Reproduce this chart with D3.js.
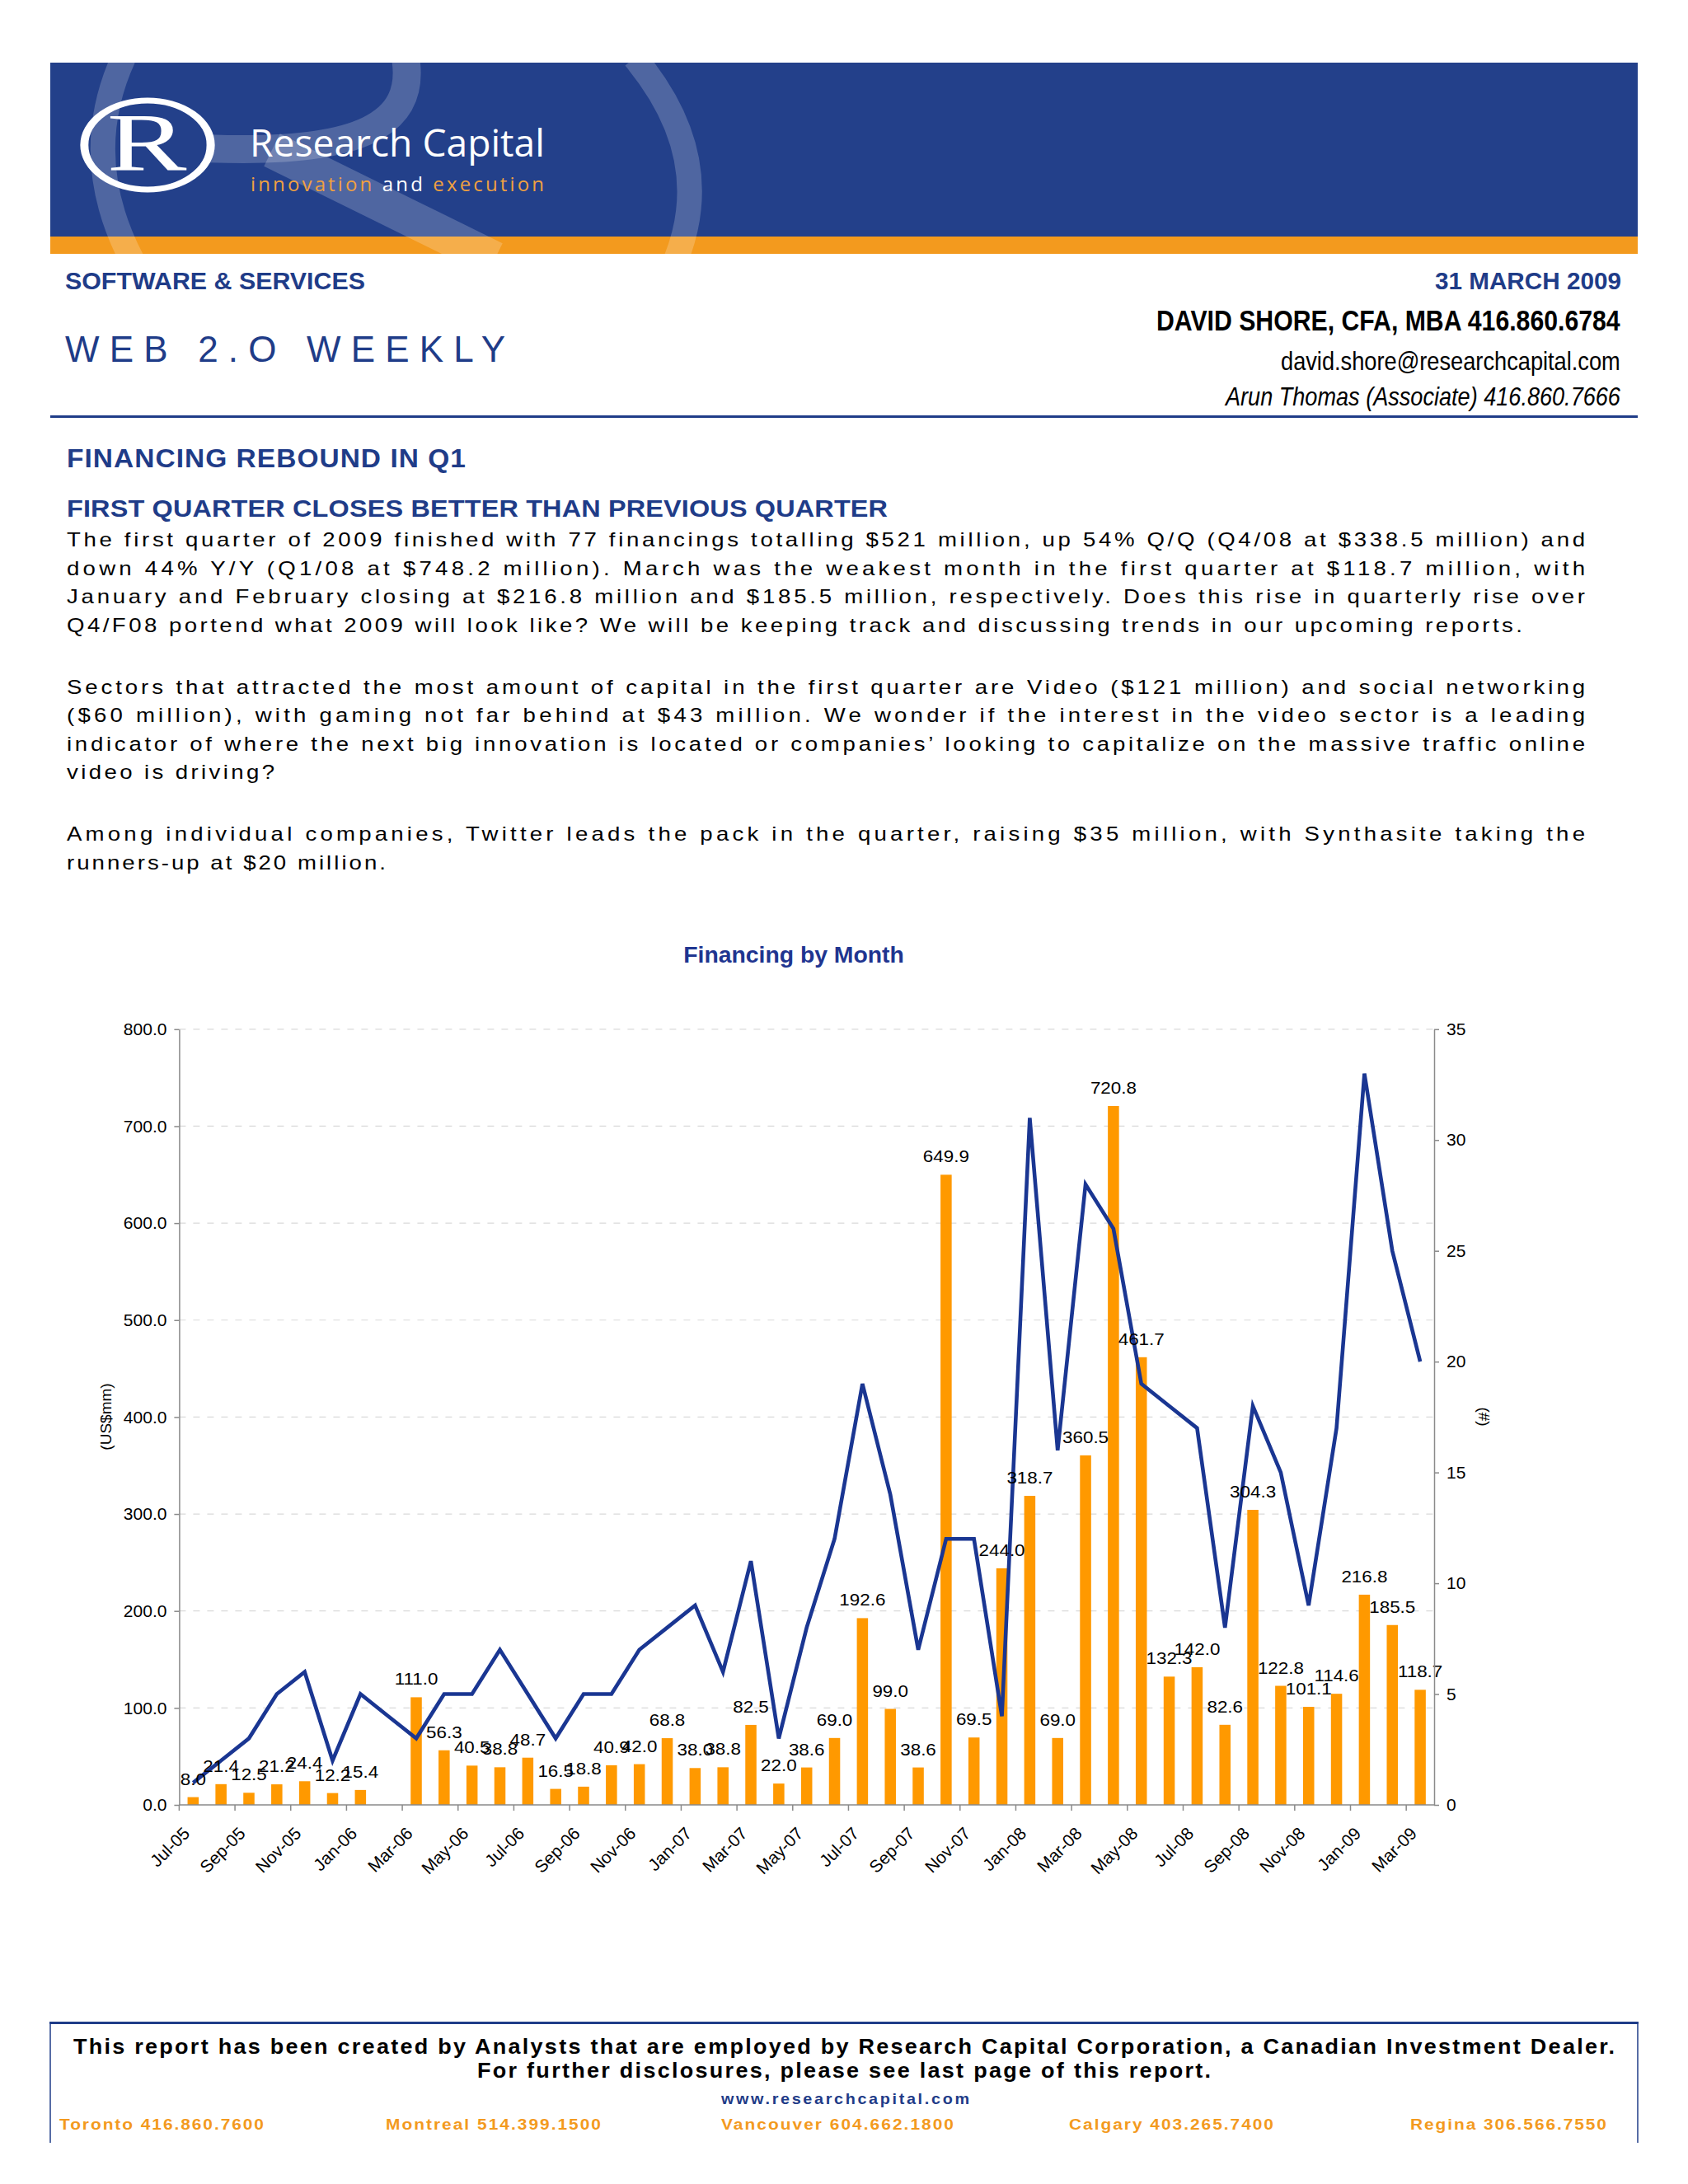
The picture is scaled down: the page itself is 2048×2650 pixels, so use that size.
<!DOCTYPE html>
<html><head><meta charset="utf-8">
<script src="https://cdn.jsdelivr.net/npm/d3@7"></script>
<style>
html,body{margin:0;padding:0;background:#fff;}
svg{display:block;}
text{font-family:"Liberation Sans",Arial,Helvetica,sans-serif;}
</style>
</head><body>
<svg id="page" width="2048" height="2650"></svg>
<script>
// ---------------- DATA ----------------
const months = ["Jul-05","Aug-05","Sep-05","Oct-05","Nov-05","Dec-05","Jan-06","Feb-06","Mar-06","Apr-06","May-06","Jun-06",
  "Jul-06","Aug-06","Sep-06","Oct-06","Nov-06","Dec-06","Jan-07","Feb-07","Mar-07","Apr-07","May-07","Jun-07",
  "Jul-07","Aug-07","Sep-07","Oct-07","Nov-07","Dec-07","Jan-08","Feb-08","Mar-08","Apr-08","May-08","Jun-08",
  "Jul-08","Aug-08","Sep-08","Oct-08","Nov-08","Dec-08","Jan-09","Feb-09","Mar-09"];
// Financing amount (US$mm), bars, left axis
const amounts = [8.0,21.4,12.5,21.2,24.4,12.2,15.4,null,111.0,56.3,40.5,38.8,
  48.7,16.5,18.8,40.9,42.0,68.8,38.0,38.8,82.5,22.0,38.6,69.0,
  192.6,99.0,38.6,649.9,69.5,244.0,318.7,69.0,360.5,720.8,461.7,132.3,
  142.0,82.6,304.3,122.8,101.1,114.6,216.8,185.5,118.7];
// Number of financings (#), line, right axis
const counts = [1,2,3,5,6,2,5,4,3,5,5,7,
  5,3,5,5,7,8,9,6,11,3,8,12,
  19,14,7,12,12,4,31,16,28,26,19,18,
  17,8,18,15,9,17,33,25,20];
const amountTicks = [0,100,200,300,400,500,600,700,800];
const countTicks = [0,5,10,15,20,25,30,35];
const monthTickLabels = months.filter((d,i)=>i%2===0);

const chartTitle = "Financing by Month";
const leftAxisTitle = "(US$mm)";
const rightAxisTitle = "(#)";

// ---------------- PAGE ----------------
const svg = d3.select("#page");
const NAVY = "#23408a", ORANGE = "#f39a1e", HEAD = "#1f3c88";

svg.append("rect").attr("width",2048).attr("height",2650).attr("fill","#ffffff");

// text helper. mode "fit": scale glyphs so the text is exactly len wide;
// otherwise stretch by sx and spread letters so the text is len wide.
function txt(parent,x,y,s,opts){
  const t = parent.append("text").text(s)
    .style("font-size",(opts.size||22)+"px").attr("fill",opts.fill||"#000");
  if(opts.family) t.style("font-family",opts.family);
  if(opts.weight) t.style("font-weight",opts.weight);
  if(opts.style) t.style("font-style",opts.style);
  if(opts.fit){
    const w = t.node().getComputedTextLength();
    t.attr("transform",`translate(${x},${y}) scale(${opts.len/w},1)`);
  } else {
    const sx = opts.sx || 1;
    t.attr("transform",`translate(${x},${y}) scale(${sx},1)`);
    if(opts.len) t.attr("textLength",opts.len/sx).attr("lengthAdjust","spacing");
  }
  return t;
}

// banner
const banner = svg.append("g");
banner.append("clipPath").attr("id","bclip").append("rect").attr("x",61).attr("y",76).attr("width",1926).attr("height",233);
banner.append("rect").attr("x",61).attr("y",76).attr("width",1926).attr("height",212).attr("fill",NAVY);
banner.append("rect").attr("x",61).attr("y",287).attr("width",1926).attr("height",21).attr("fill",ORANGE);
const wm = banner.append("g").attr("clip-path","url(#bclip)").attr("fill","none").attr("stroke","#ffffff").attr("stroke-opacity",0.2);
wm.append("path").attr("d","M150,70 Q95,190 160,315").attr("stroke-width",30);
wm.append("path").attr("d","M492,70 C505,150 440,188 250,180").attr("stroke-width",34);
wm.append("path").attr("d","M330,182 L600,315").attr("stroke-width",44);
wm.append("path").attr("d","M770,70 Q870,190 820,315").attr("stroke-width",30);

// logo
banner.append("circle").attr("transform","translate(179,176) scale(1.42,1)").attr("r",54)
  .attr("fill","none").attr("stroke","#fff").attr("stroke-width",7);
banner.append("text").attr("transform","translate(178,206) scale(1.45,1)")
  .attr("text-anchor","middle").attr("fill","#fff")
  .style("font-family","'Liberation Serif','DejaVu Serif',serif").style("font-size","100px").text("R");
txt(banner,303,190,"Research Capital",{size:46,fill:"#fff",family:"'Open Sans',sans-serif",len:358,fit:true});
const tag = banner.append("text").attr("x",304).attr("y",232)
  .style("font-family","'Open Sans',sans-serif").style("font-size","24px")
  .attr("textLength",356).attr("lengthAdjust","spacing");
tag.append("tspan").attr("fill","#f0a040").text("innovation ");
tag.append("tspan").attr("fill","#fff").text("and ");
tag.append("tspan").attr("fill","#f0a040").text("execution");

txt(svg,79,351,"SOFTWARE & SERVICES",{size:29,weight:"bold",fill:HEAD,len:364,fit:true});
txt(svg,1741,351,"31 MARCH 2009",{size:29,weight:"bold",fill:HEAD,len:226,fit:true});
txt(svg,79,439,"WEB 2.O WEEKLY",{size:44,fill:HEAD,len:534});
txt(svg,1403,401,"DAVID SHORE, CFA, MBA 416.860.6784",{size:35,weight:"bold",len:563,fit:true});
txt(svg,1554,449,"david.shore@researchcapital.com",{size:31,len:412,fit:true});
txt(svg,1487,492,"Arun Thomas (Associate) 416.860.7666",{size:31,style:"italic",len:479,fit:true});
svg.append("rect").attr("x",61).attr("y",504).attr("width",1926).attr("height",3).attr("fill",HEAD);

txt(svg,81,567,"FINANCING REBOUND IN Q1",{size:31,weight:"bold",fill:HEAD,len:484,sx:1.08});
txt(svg,81,627,"FIRST QUARTER CLOSES BETTER THAN PREVIOUS QUARTER",{size:30,weight:"bold",fill:HEAD,len:996,sx:1.08});

const bodyLines = [
 ["The first quarter of 2009 finished with 77 financings totalling $521 million, up 54% Q/Q (Q4/08 at $338.5 million) and",663,1842],
 ["down 44% Y/Y (Q1/08 at $748.2 million). March was the weakest month in the first quarter at $118.7 million, with",698,1842],
 ["January and February closing at $216.8 million and $185.5 million, respectively. Does this rise in quarterly rise over",732,1842],
 ["Q4/F08 portend what 2009 will look like? We will be keeping track and discussing trends in our upcoming reports.",767,1766],
 ["Sectors that attracted the most amount of capital in the first quarter are Video ($121 million) and social networking",842,1842],
 ["($60 million), with gaming not far behind at $43 million. We wonder if the interest in the video sector is a leading",876,1842],
 ["indicator of where the next big innovation is located or companies\u2019 looking to capitalize on the massive traffic online",911,1842],
 ["video is driving?",945,252],
 ["Among individual companies, Twitter leads the pack in the quarter, raising $35 million, with Synthasite taking the",1020,1842],
 ["runners-up at $20 million.",1055,387]
];
bodyLines.forEach(l=>txt(svg,81,l[1],l[0],{size:23,len:l[2],sx:1.2}));

// footer
svg.append("rect").attr("x",60).attr("y",2453).attr("width",1928).attr("height",3).attr("fill",HEAD);
svg.append("line").attr("x1",61).attr("x2",61).attr("y1",2455).attr("y2",2600).attr("stroke",HEAD).attr("stroke-width",1.5);
svg.append("line").attr("x1",1987).attr("x2",1987).attr("y1",2455).attr("y2",2600).attr("stroke",HEAD).attr("stroke-width",1.5);
txt(svg,89,2492,"This report has been created by Analysts that are employed by Research Capital Corporation, a Canadian Investment Dealer.",{size:25,weight:"bold",len:1870,sx:1.08});
txt(svg,579,2521,"For further disclosures, please see last page of this report.",{size:25,weight:"bold",len:890,sx:1.08});
txt(svg,875,2553,"www.researchcapital.com",{size:18,weight:"bold",fill:HEAD,len:301,sx:1.1});
[["Toronto 416.860.7600",72,248],["Montreal 514.399.1500",468,261],["Vancouver 604.662.1800",875,282],
 ["Calgary 403.265.7400",1297,248],["Regina 306.566.7550",1711,238]].forEach(c=>
  txt(svg,c[1],2584,c[0],{size:19,weight:"bold",fill:ORANGE,len:c[2],sx:1.1}));

// ---------------- CHART ----------------
const X0 = 217.4, X1 = 1740, YB = 2190, YT = 1248.8;
const x = d3.scaleBand().domain(months).range([X0,X1]).paddingInner(0.6).paddingOuter(0.3);
const yL = d3.scaleLinear().domain([0,800]).range([YB,YT]);
const yR = d3.scaleLinear().domain([0,35]).range([YB,YT]);
const cx = m => x(m) + x.bandwidth()/2;

const chart = svg.append("g");
chart.append("text").attr("transform","translate(963,1168) scale(1.05,1)").attr("text-anchor","middle")
  .style("font-size","27px").style("font-weight","bold").attr("fill","#1f3590").text(chartTitle);

// gridlines
chart.append("g").selectAll("line").data(amountTicks.filter(d=>d>0)).join("line")
  .attr("x1",X0).attr("x2",X1).attr("y1",d=>yL(d)).attr("y2",d=>yL(d))
  .attr("stroke","#d9d9d9").attr("stroke-width",1.2).attr("stroke-dasharray","8,9");

// bars
chart.append("g").selectAll("rect").data(months.map((m,i)=>({m,v:amounts[i]})).filter(d=>d.v!=null)).join("rect")
  .attr("x",d=>x(d.m)).attr("width",x.bandwidth())
  .attr("y",d=>yL(d.v)).attr("height",d=>YB-yL(d.v)).attr("fill","#ff9900");

// line
chart.append("path").datum(counts)
  .attr("d",d3.line().x((d,i)=>cx(months[i])).y(d=>yR(d)))
  .attr("fill","none").attr("stroke","#1a3692").attr("stroke-width",4.6).attr("stroke-linejoin","miter");

// value labels
chart.append("g").selectAll("text").data(months.map((m,i)=>({m,v:amounts[i]})).filter(d=>d.v!=null)).join("text")
  .attr("transform",d=>`translate(${cx(d.m)},${yL(d.v)-15}) scale(1.12,1)`).attr("text-anchor","middle")
  .style("font-size","20px").attr("fill","#000").text(d=>d3.format(".1f")(d.v));

// left axis
const axL = chart.append("g").attr("transform",`translate(${X0},0)`)
  .call(d3.axisLeft(yL).tickValues(amountTicks).tickFormat(d3.format(".1f")).tickSize(6).tickSizeOuter(0).tickPadding(9));
// right axis
const axR = chart.append("g").attr("transform",`translate(${X1},0)`)
  .call(d3.axisRight(yR).tickValues(countTicks).tickFormat(d3.format("d")).tickSize(6).tickSizeOuter(0).tickPadding(9));
[axL,axR].forEach(a=>{
  a.select(".domain").attr("stroke","#8a8a8a").attr("stroke-width",1.5);
  a.selectAll(".tick line").attr("stroke","#8a8a8a").attr("stroke-width",1.5);
  a.selectAll(".tick text").style("font-size","21px").style("font-family","'Liberation Sans',Arial,sans-serif").attr("fill","#000");
});

// bottom axis
const xb = chart.append("g");
xb.append("line").attr("x1",X0).attr("x2",X1).attr("y1",YB).attr("y2",YB).attr("stroke","#8a8a8a").attr("stroke-width",1.5);
const bnd = m => cx(m) - x.step()/2;
xb.selectAll("line.t").data(monthTickLabels).join("line").attr("class","t")
  .attr("x1",d=>bnd(d)).attr("x2",d=>bnd(d)).attr("y1",YB).attr("y2",YB+7)
  .attr("stroke","#8a8a8a").attr("stroke-width",1.5);
xb.selectAll("text").data(monthTickLabels).join("text")
  .attr("transform",d=>`translate(${bnd(d)+14},${YB+36}) rotate(-45)`)
  .attr("text-anchor","end").style("font-size","21px").attr("fill","#000").text(d=>d);

// axis titles
chart.append("text").attr("transform",`translate(135,1719) rotate(-90)`).attr("text-anchor","middle")
  .style("font-size","19px").attr("fill","#000").text(leftAxisTitle);
chart.append("text").attr("transform",`translate(1794,1719) rotate(90)`).attr("text-anchor","middle")
  .style("font-size","19px").attr("fill","#000").text(rightAxisTitle);
</script>
</body></html>
